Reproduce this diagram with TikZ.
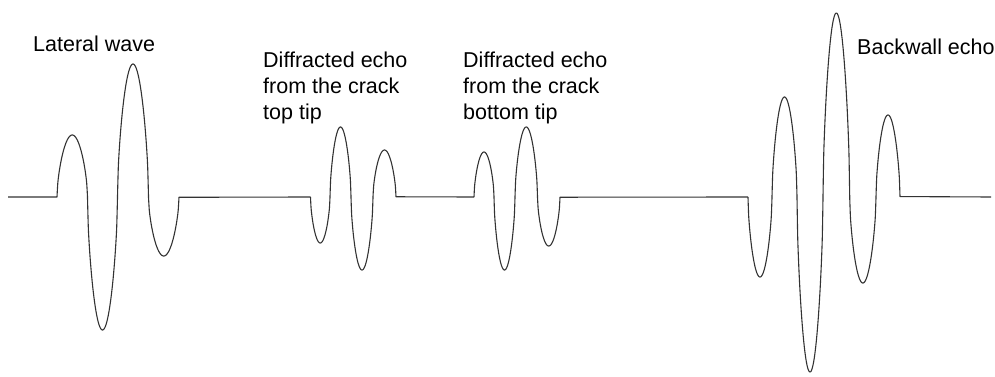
\documentclass[tikz,border=0pt]{standalone}
\usepackage{fontspec}
\setmainfont{Liberation Sans}
\usepackage{tikz}
\usetikzlibrary{positioning}

\begin{document}
\begin{tikzpicture}[x=1pt,y=-1pt,
  wave/.style={line width=1.1pt,black!80,line join=round},
  lbl/.style={anchor=base west,align=left,inner sep=0pt,
              font=\fontsize{21.5}{26}\selectfont}
]
\useasboundingbox (0,0) rectangle (995,377);

% lateral wave
\draw[wave] (8,197) -- (57,197)
  foreach \za/\zb/\pk in {57/87.5/135,87.5/117.5/330,117.5/148.5/64,148.5/179/256}
  {-- plot[domain=\za:\zb,samples=40,smooth] (\x,{197+(\pk-197)*(abs(sin(180*(\x-\za)/(\zb-\za)))+0.0001)^0.6})}
  -- (310.5,197);
% echo from the top tip
\draw[wave] (310.5,197)
  foreach \za/\zb/\pk in {310.5/330/243,330/351/127,351/373/270,373/396/150}
  {-- plot[domain=\za:\zb,samples=40,smooth] (\x,{197+(\pk-197)*(abs(sin(180*(\x-\za)/(\zb-\za)))+0.0001)^0.6})}
  -- (474,197);
% echo from the bottom tip
\draw[wave] (474,197)
  foreach \za/\zb/\pk in {474/494/152,494/515/270,515/537.5/127,537.5/560/246}
  {-- plot[domain=\za:\zb,samples=40,smooth] (\x,{197+(\pk-197)*(abs(sin(180*(\x-\za)/(\zb-\za)))+0.0001)^0.6})}
  -- (748,197);
% backwall echo
\draw[wave] (748,197)
  foreach \za/\zb/\pk in {748/772/277,772/797/97,797/823/372,823/849.7/13,849.7/876/283,876/900/115}
  {-- plot[domain=\za:\zb,samples=40,smooth] (\x,{197+(\pk-197)*(abs(sin(180*(\x-\za)/(\zb-\za)))+0.0001)^0.6})}
  -- (991,197);

\node[lbl] (lat) at (33,52) {Lateral wave};
\node[lbl] (top) at (263,120) {Diffracted echo\\from the crack\\top tip};
\node[lbl] (bot) at (463,120) {Diffracted echo\\from the crack\\bottom tip};
\node[lbl] (back) at (857,55) {Backwall echo};
\end{tikzpicture}
\end{document}
